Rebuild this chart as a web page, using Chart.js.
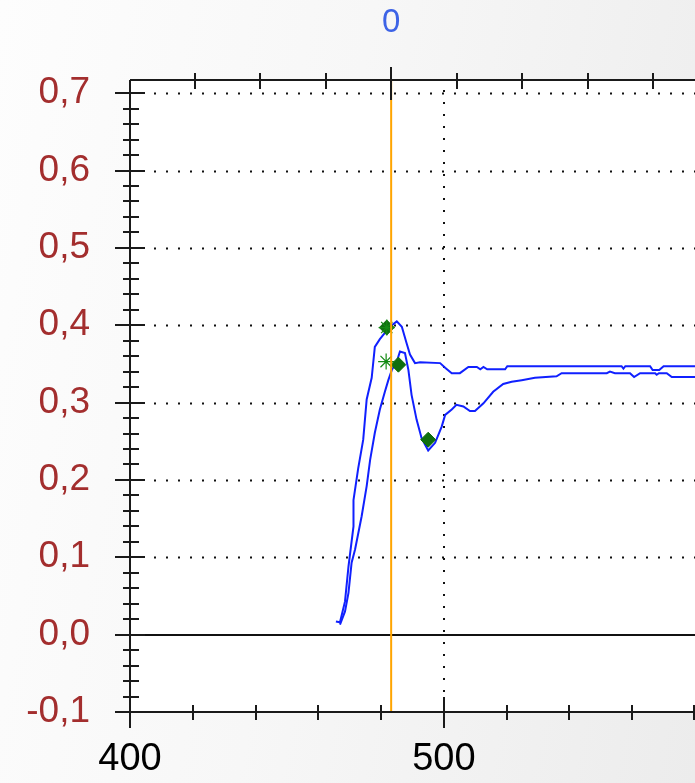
<!DOCTYPE html>
<html>
<head>
<meta charset="utf-8">
<script src="https://cdn.jsdelivr.net/npm/chart.js@4.4.1/dist/chart.umd.min.js"></script>
<style>
  html, body { margin: 0; padding: 0; overflow: hidden; }
  #wrap {
    width: 695px; height: 783px; position: relative;
    background: linear-gradient(100deg, #fdfdfd 0%, #f7f7f7 45%, #ececec 100%);
  }
  #spectrum { display: block; }
</style>
</head>
<body>
<div id="wrap"><canvas id="spectrum" width="695" height="783"></canvas></div>
<script>
// 光谱数据 (波长 nm, 吸光度)
const curveAx = [465.6, 466.9, 468.5, 469.6, 471.2, 471.2, 472.7, 474.3, 475.4, 477.0, 478.0, 479.6, 481.2, 482.8, 485.0, 486.6, 488.1, 489.2, 490.8, 492.4, 498.8, 500.4, 502.5, 505.1, 507.8, 510.5, 511.6, 512.6, 513.8, 519.5, 520.2, 556.6, 557.2, 557.8, 565.7, 566.5, 568.6, 570.0, 580.0];
const curveAy = [0.017, 0.016, 0.043, 0.088, 0.140, 0.174, 0.215, 0.252, 0.304, 0.332, 0.372, 0.382, 0.390, 0.398, 0.405, 0.398, 0.377, 0.362, 0.351, 0.352, 0.351, 0.345, 0.338, 0.338, 0.346, 0.346, 0.343, 0.346, 0.343, 0.343, 0.347, 0.347, 0.344, 0.347, 0.347, 0.342, 0.342, 0.347, 0.347];

const curveBx = [466.9, 468.5, 469.6, 470.6, 471.7, 473.8, 475.4, 476.5, 478.0, 479.6, 481.2, 482.3, 483.4, 485.0, 486.0, 487.6, 488.7, 489.7, 491.3, 492.9, 495.0, 497.2, 499.3, 500.4, 502.5, 504.0, 506.2, 508.3, 509.9, 512.6, 515.7, 518.9, 521.6, 524.8, 529.0, 535.9, 537.5, 551.9, 552.9, 554.5, 559.3, 560.6, 562.5, 567.3, 567.8, 568.5, 571.0, 572.6, 580.0];
const curveBy = [0.013, 0.030, 0.054, 0.093, 0.110, 0.153, 0.192, 0.226, 0.261, 0.291, 0.314, 0.329, 0.342, 0.353, 0.366, 0.364, 0.342, 0.310, 0.278, 0.254, 0.238, 0.248, 0.269, 0.284, 0.291, 0.297, 0.295, 0.289, 0.289, 0.299, 0.314, 0.324, 0.327, 0.329, 0.332, 0.334, 0.338, 0.338, 0.340, 0.338, 0.338, 0.333, 0.338, 0.338, 0.336, 0.338, 0.338, 0.333, 0.333];

// 峰值标记
const diamondX = [481.8, 485.5, 495.0];
const diamondY = [0.397, 0.349, 0.252];
const starX = [481.6, 481.8];
const starY = [0.353, 0.397];

// 坐标轴
const xMin = 400, xMax = 580, xStep = 20;
const xLabels = [400, 500];
const yMin = -0.1, yMax = 0.717, yStep = 0.1, yMinorStep = 0.02;
const cursorX = 483.2;
const topMin = -3.99, topMax = 4.64;

const pts = (xs, ys) => xs.map((x, i) => ({ x: x, y: ys[i] }));
const fmt = v => v.toFixed(1).replace('.', ',');
const noPad = s => { s.paddingLeft = 0; s.paddingRight = 0; s.paddingTop = 0; s.paddingBottom = 0; };

const framePlugin = {
  id: 'frame',
  beforeDraw(chart) {
    const { ctx, chartArea: a } = chart;
    ctx.save();
    ctx.fillStyle = '#ffffff';
    ctx.fillRect(a.left, a.top, a.right - a.left, a.bottom - a.top);
    ctx.restore();
  },
  beforeDatasetsDraw(chart) {
    const { ctx, chartArea: a, scales } = chart;
    const x = scales.x, y = scales.y;
    ctx.save();
    ctx.strokeStyle = '#111';
    ctx.lineWidth = 2;
    ctx.setLineDash([2, 10]);
    for (let i = 1; i <= 7; i++) {
      const py = Math.round(y.getPixelForValue(i / 10)) + 0.5;
      ctx.beginPath(); ctx.moveTo(a.left + 24, py); ctx.lineTo(a.right, py); ctx.stroke();
    }
    const px = Math.round(x.getPixelForValue(500));
    ctx.beginPath(); ctx.moveTo(px, a.top + 10); ctx.lineTo(px, a.bottom - 16); ctx.stroke();
    ctx.setLineDash([]);
    // zero line
    const p0 = Math.round(y.getPixelForValue(0));
    ctx.beginPath(); ctx.moveTo(a.left, p0); ctx.lineTo(a.right, p0); ctx.stroke();
    ctx.restore();
  },
  afterDatasetsDraw(chart) {
    const { ctx, chartArea: a, scales } = chart;
    const x = scales.x, y = scales.y, t = scales.x2;
    ctx.save();
    ctx.strokeStyle = '#1a1a1a';
    ctx.lineWidth = 2;
    const line = (x1, y1, x2, y2) => { ctx.beginPath(); ctx.moveTo(x1, y1); ctx.lineTo(x2, y2); ctx.stroke(); };
    const left = Math.round(x.getPixelForValue(xMin));
    const bottom = Math.round(y.getPixelForValue(yMin));
    line(left, a.top, left, bottom + 15);
    line(left - 15, bottom, a.right, bottom);
    line(left, a.top, a.right, a.top);
    // y ticks
    for (let i = Math.round(yMin / yMinorStep); i * yMinorStep <= 0.7 + 1e-9; i++) {
      const py = Math.round(y.getPixelForValue(i * yMinorStep));
      if (i % 5 === 0) line(left - 15, py, left + 15, py);
      else line(left - 7, py, left + 9, py);
    }
    // bottom ticks
    for (let v = xMin; v <= xMax; v += xStep) {
      const px = Math.min(Math.round(x.getPixelForValue(v)), a.right - 1);
      if (xLabels.includes(v)) line(px, bottom - 15, px, bottom + 16);
      else line(px, bottom - 7, px, bottom + 8);
    }
    // top ticks
    for (let v = Math.ceil(topMin); v <= topMax; v++) {
      const px = Math.round(t.getPixelForValue(v));
      if (v === 0) line(px, a.top - 13, px, a.top + 20);
      else line(px, a.top - 7, px, a.top + 9);
    }
    ctx.restore();
  }
};

const ctx = document.getElementById('spectrum').getContext('2d');
new Chart(ctx, {
  type: 'line',
  data: {
    datasets: [
      { data: [{ x: cursorX, y: yMin }, { x: cursorX, y: yMax }], borderColor: '#ffa500', borderWidth: 2, pointRadius: 0, order: 0 },
      { type: 'scatter', data: pts(starX, starY), pointStyle: 'star', pointRadius: 8, borderColor: '#138a13', borderWidth: 1.2, backgroundColor: '#138a13', order: 1 },
      { type: 'scatter', data: pts(diamondX, diamondY), pointStyle: 'rectRot', pointRadius: 7.5, borderColor: '#0f6e0f', backgroundColor: '#0f6e0f', borderWidth: 1, order: 1 },
      { data: pts(curveAx, curveAy), borderColor: '#1020ff', borderWidth: 2, pointRadius: 0, order: 2 },
      { data: pts(curveBx, curveBy), borderColor: '#1020ff', borderWidth: 2, pointRadius: 0, order: 2 }
    ]
  },
  options: {
    responsive: false,
    animation: false,
    layout: { padding: 0, autoPadding: false },
    plugins: { legend: { display: false }, tooltip: { enabled: false } },
    elements: { line: { tension: 0 } },
    scales: {
      x: {
        type: 'linear', position: 'bottom', min: xMin, max: xMax,
        grid: { display: false, drawTicks: false }, border: { display: false },
        ticks: {
          stepSize: xStep, autoSkip: false, maxRotation: 0, padding: 25,
          color: '#000', font: { family: 'Liberation Sans, Arial, sans-serif', size: 38 },
          callback: v => xLabels.includes(v) ? String(v) : ''
        },
        afterFit: s => { s.height = 71; noPad(s); }
      },
      x2: {
        type: 'linear', position: 'top', min: topMin, max: topMax,
        grid: { display: false, drawTicks: false }, border: { display: false },
        ticks: {
          stepSize: 1, autoSkip: false, maxRotation: 0, padding: 37, includeBounds: false,
          color: '#3d63e6', font: { family: 'Liberation Sans, Arial, sans-serif', size: 33 },
          callback: v => v === 0 ? '0' : ''
        },
        afterFit: s => { s.height = 80; noPad(s); }
      },
      y: {
        type: 'linear', position: 'left', min: yMin, max: yMax,
        grid: { display: false, drawTicks: false }, border: { display: false },
        ticks: {
          stepSize: yStep, includeBounds: false, autoSkip: false, padding: 40,
          color: '#a32e2e', font: { family: 'Liberation Sans, Arial, sans-serif', size: 37 },
          callback: v => fmt(v)
        },
        afterFit: s => { s.width = 130; noPad(s); }
      }
    }
  },
  plugins: [framePlugin]
});
</script>
</body>
</html>
